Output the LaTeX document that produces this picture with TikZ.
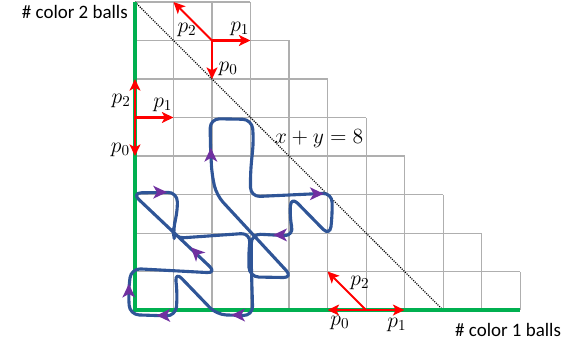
\RequirePackage{fix-cm}
\documentclass[tikz,border=0pt]{standalone}
\usepackage{fontspec}
\newfontfamily\labelfont{Carlito}
\usetikzlibrary{arrows.meta}
\definecolor{gridc}{RGB}{175,175,175}
\definecolor{axisc}{RGB}{0,176,80}
\definecolor{walkc}{RGB}{47,85,151}
\definecolor{headc}{RGB}{112,48,160}
\definecolor{movec}{RGB}{255,0,0}
\tikzset{
  gridline/.style={draw=gridc, line width=0.75pt},
  axisline/.style={draw=axisc, line width=2.3pt},
  diagline/.style={draw=black, line width=0.8pt, dash pattern=on 0.8pt off 0.9pt},
  walkline/.style={draw=walkc, line width=2.3pt, rounded corners=7pt, line join=round},
  movearrow/.style={draw=movec, line width=1.5pt, -{Stealth[length=8.5pt,width=8pt,inset=2pt]}},
  mathlabel/.style={inner sep=0pt, font=\fontsize{16}{18}\selectfont},
  axislabel/.style={inner sep=0pt, font=\labelfont\fontsize{14}{16}\selectfont},
  walkhead/.pic={\fill[headc] (0.18,0) -- (-0.18,0.17) -- (-0.08,0) -- (-0.18,-0.17) -- cycle;}
}
\begin{document}
\begin{tikzpicture}[x=1cm,y=1cm]
\useasboundingbox (-3.506,-0.805) rectangle (11.558,8.052);
% grid
\foreach \j in {0,...,7}{
  \pgfmathtruncatemacro\w{10-\j}
  \foreach \i in {0,...,\w}{\draw[gridline] (\i,\j) -- (\i,\j+1);}
}
\foreach \k in {1,...,8}{
  \pgfmathtruncatemacro\w{11-\k}
  \draw[gridline] (0,\k) -- (\w,\k);
}
% named points
\coordinate (O) at (0,0);
\coordinate (Xend) at (10,0);
\coordinate (Yend) at (0,8);
\coordinate (D1) at (0,8);
\coordinate (D2) at (8,0);
\coordinate (T) at (2,7);
\coordinate (T0) at (2,6);
\coordinate (T1) at (3,7);
\coordinate (T2) at (1,8);
\coordinate (L) at (0,5);
\coordinate (L0) at (0,4);
\coordinate (L1) at (1,5);
\coordinate (L2) at (0,6);
\coordinate (B) at (6,0);
\coordinate (B0) at (5,0);
\coordinate (B1) at (7,0);
\coordinate (B2) at (5,1);
% diagonal x+y=8
\draw[diagline] (D1) -- (D2);
% axes
\draw[axisline] (Yend) -- (O) -- (Xend);
% walk
\draw[walkline]
  (3.0,2.0) -- (2.95,1.4) -- (2.97,0.86) -- (4.1,0.84) -- (2.12,2.98)
  -- (2.0,3.5) -- (1.96,4.2) -- (1.95,4.97) -- (3.04,4.95) -- (3.08,4.4)
  -- (3.0,3.6) -- (3.0,2.94) -- (5.12,3.04) -- (5.12,2.4) -- (5.06,1.92)
  -- (4.05,2.95) -- (4.02,2.4) -- (4.12,1.92) -- (3.02,1.98) -- (3.02,1.2)
  -- (3.06,-0.15) -- (2.12,-0.12) -- (1.04,1.0) -- (1.1,0.4) -- (1.06,-0.16)
  -- (-0.14,-0.12) -- (-0.17,0.5) -- (-0.1,1.08) -- (2.12,0.96) -- (-0.08,3.04)
  -- (1.1,3.06) -- (1.1,2.5) -- (0.98,2.1) -- (1.02,1.86) -- cycle;
% direction heads on walk
\pic at (0.65,3.06) {walkhead};
\pic[rotate=135] at (1.58,1.5) {walkhead};
\pic[rotate=90] at (-0.16,0.5) {walkhead};
\pic[rotate=180] at (0.74,-0.14) {walkhead};
\pic[rotate=180] at (2.68,-0.13) {walkhead};
\pic[rotate=180] at (3.77,1.95) {walkhead};
\pic at (4.72,3.02) {walkhead};
\pic[rotate=90] at (1.97,4.03) {walkhead};
% move arrows
\draw[movearrow] (T) -- (T0);
\draw[movearrow] (T) -- (T1);
\draw[movearrow] (T) -- (T2);
\draw[movearrow] (L) -- (L0);
\draw[movearrow] (L) -- (L1);
\draw[movearrow] (L) -- (L2);
\draw[movearrow] (B) -- (B0);
\draw[movearrow] (B) -- (B1);
\draw[movearrow] (B) -- (B2);
% labels
\node[mathlabel] (tp2) at (1.35,7.27) {$p_2$};
\node[mathlabel] (tp1) at (2.72,7.30) {$p_1$};
\node[mathlabel] (tp0) at (2.42,6.26) {$p_0$};
\node[mathlabel] (lp2) at (-0.36,5.43) {$p_2$};
\node[mathlabel] (lp1) at (0.72,5.32) {$p_1$};
\node[mathlabel] (lp0) at (-0.38,4.16) {$p_0$};
\node[mathlabel] (bp0) at (5.32,-0.33) {$p_0$};
\node[mathlabel] (bp1) at (6.80,-0.38) {$p_1$};
\node[mathlabel] (bp2) at (5.84,0.70) {$p_2$};
\node[mathlabel] (eq) at (4.78,4.44) {$x+y=8$};
\node[axislabel, anchor=base east] (ylab) at (-0.18,7.56) {\# color 2 balls};
\node[axislabel, anchor=base west] (xlab) at (8.31,-0.675) {\# color 1 balls};
\end{tikzpicture}
\end{document}
